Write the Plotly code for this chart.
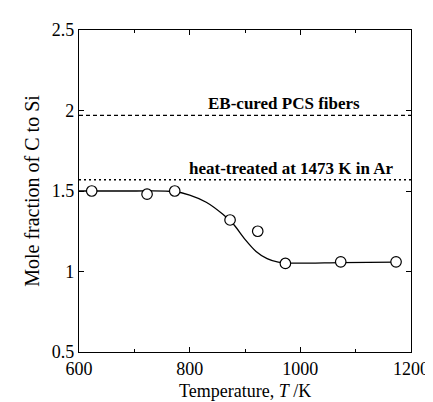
import plotly.graph_objects as go

# Measured data points
temp_pts = [623, 723, 773, 873, 923, 973, 1073, 1173]
ratio_pts = [1.50, 1.48, 1.50, 1.32, 1.25, 1.05, 1.06, 1.06]

# Fitted curve
temp_curve = [600, 700, 770, 800, 830, 860, 880, 900, 920, 940, 960, 980, 1073, 1173]
ratio_curve = [1.50, 1.50, 1.497, 1.475, 1.43, 1.355, 1.29, 1.20, 1.125, 1.08, 1.058, 1.052, 1.055, 1.058]

# Reference levels
x_range = [600, 1200]
eb_level = 1.97
ht_level = 1.57
eb_label = "EB-cured PCS fibers"
ht_label = "heat-treated at 1473 K in Ar"
x_title = "Temperature, <i>T</i> /K"
y_title = "Mole fraction of C to Si"

FONT = "Liberation Serif, Times New Roman, serif"

fig = go.Figure()
fig.add_trace(go.Scatter(x=x_range, y=[eb_level, eb_level], mode="lines",
                         line=dict(color="black", width=1.2, dash="4px,3px"),
                         showlegend=False, hoverinfo="skip"))
fig.add_trace(go.Scatter(x=x_range, y=[ht_level, ht_level], mode="lines",
                         line=dict(color="black", width=1.5, dash="2px,3px"),
                         showlegend=False, hoverinfo="skip"))
fig.add_trace(go.Scatter(x=temp_curve, y=ratio_curve, mode="lines",
                         line=dict(color="black", width=1.3, shape="spline", smoothing=0.8),
                         showlegend=False))
fig.add_trace(go.Scatter(x=temp_pts, y=ratio_pts, mode="markers",
                         marker=dict(symbol="circle", size=10.5, color="white",
                                     line=dict(color="black", width=1.2)),
                         showlegend=False))

fig.add_annotation(x=970, y=eb_level, xref="x", yref="y", text="<b>" + eb_label + "</b>",
                   showarrow=False, yanchor="bottom", yshift=0, xanchor="center",
                   font=dict(family=FONT, size=17, color="black"))
fig.add_annotation(x=1172, y=ht_level, xref="x", yref="y", text="<b>" + ht_label + "</b>",
                   showarrow=False, yanchor="bottom", yshift=0, xanchor="right",
                   font=dict(family=FONT, size=17, color="black"))
# x-axis title as annotation so it sits tight against the bottom edge
fig.add_annotation(x=0.5, y=0, xref="paper", yref="paper", text=x_title,
                   showarrow=False, yanchor="bottom", xanchor="center", yshift=-51,
                   font=dict(family=FONT, size=18, color="black"))

axis_common = dict(showline=True, linecolor="black", linewidth=1.3, mirror="ticks",
                   ticks="inside", ticklen=5, tickcolor="black", showgrid=False,
                   zeroline=False, tickfont=dict(family=FONT, size=18, color="black"))

fig.update_xaxes(range=x_range, tickvals=[600, 800, 1000, 1200],
                 minor=dict(tickvals=[700, 900, 1100], ticks="inside", ticklen=3, tickcolor="black"),
                 **axis_common)
fig.update_yaxes(range=[0.5, 2.5], tickvals=[0.5, 1, 1.5, 2, 2.5],
                 ticktext=["0.5", "1", "1.5", "2", "2.5"],
                 title=dict(text=y_title, font=dict(family=FONT, size=20, color="black"),
                            standoff=6),
                 **axis_common)

fig.update_layout(width=433, height=402, margin=dict(l=71, r=22, t=17, b=58),
                  plot_bgcolor="white", paper_bgcolor="white",
                  font=dict(family=FONT, color="black"))

fig.write_html("out.html")
